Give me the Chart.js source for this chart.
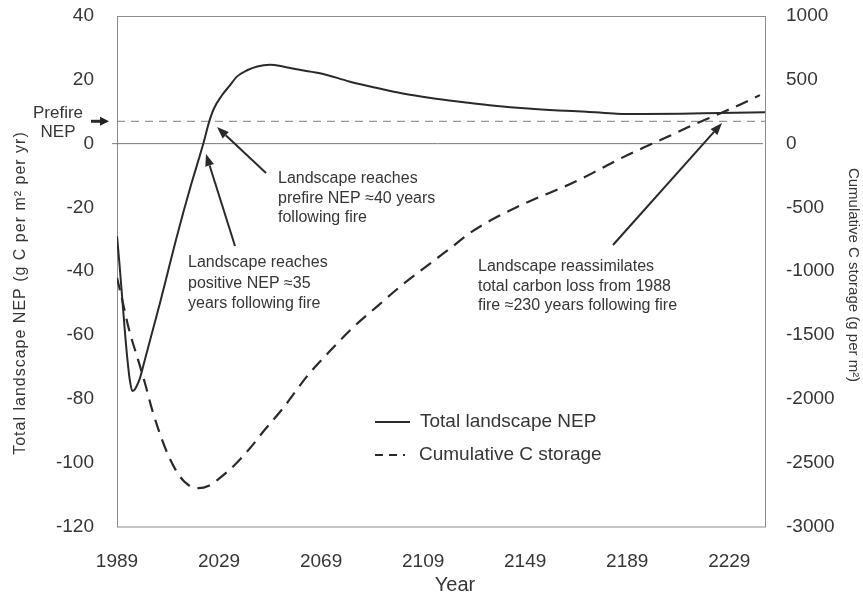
<!DOCTYPE html>
<html>
<head>
<meta charset="utf-8">
<script src="https://cdn.jsdelivr.net/npm/chart.js@4.4.1/dist/chart.umd.min.js"></script>
<style>
html, body { margin: 0; padding: 0; background: #fff; }
</style>
</head>
<body>
<canvas id="nepChart" width="863" height="598"></canvas>
<script>
// years after the 1988 fire
var nepYears = [1989, 1990, 1991, 1992, 1993, 1994, 1995, 1996, 1997, 1998, 2000, 2003, 2006, 2009, 2012, 2015, 2018, 2021, 2023, 2025, 2027, 2030, 2033, 2036, 2040, 2044, 2049, 2054, 2060, 2069, 2080, 2090, 2101, 2112, 2125, 2137, 2150, 2162, 2173, 2185, 2195, 2210, 2225, 2243];
var nepValues = [-29, -38, -48, -58, -67, -74, -77.5, -77, -75.5, -73.5, -67.5, -58.5, -49.5, -40, -30.5, -21.5, -13, -5, 0.5, 6.5, 11, 15, 18, 21, 23, 24.2, 24.7, 24.2, 23.2, 22, 19.5, 17.6, 15.7, 14.3, 13, 11.9, 11, 10.4, 10, 9.4, 9.3, 9.4, 9.6, 9.8];

var storageYears = [1989, 1991, 1993.5, 1997.5, 2000, 2003, 2008, 2013, 2017, 2021, 2025, 2029, 2035, 2041, 2047, 2054, 2064, 2072, 2081, 2091, 2100, 2110, 2119, 2127, 2136, 2146, 2155, 2164, 2175, 2185, 2195, 2205, 2214, 2224, 2232, 2241];
var storageValues = [-1050, -1220, -1440, -1710, -1880, -2100, -2390, -2590, -2675, -2700, -2680, -2625, -2520, -2390, -2240, -2075, -1810, -1635, -1450, -1275, -1120, -965, -830, -705, -595, -495, -415, -340, -235, -130, -35, 55, 140, 225, 295, 380];

var prefireNEP = 7;
var yearTicks = [1989, 2029, 2069, 2109, 2149, 2189, 2229];

var FONT = '"Liberation Sans", Arial, sans-serif';
var TEXT = '#363636';

function toPoints(xs, ys) {
    return xs.map(function(x, i) { return {x: x, y: ys[i]}; });
}

function arrow(ctx, x1, y1, x2, y2, len, half, width) {
    var a = Math.atan2(y2 - y1, x2 - x1);
    var bx = x2 - len * Math.cos(a), by = y2 - len * Math.sin(a);
    ctx.lineWidth = width;
    ctx.beginPath();
    ctx.moveTo(x1, y1);
    ctx.lineTo(bx, by);
    ctx.stroke();
    ctx.beginPath();
    ctx.moveTo(x2, y2);
    ctx.lineTo(bx + half * Math.sin(a), by - half * Math.cos(a));
    ctx.lineTo(bx - half * Math.sin(a), by + half * Math.cos(a));
    ctx.closePath();
    ctx.fill();
}

function lines(ctx, arr, x, y0, step) {
    arr.forEach(function(t, i) { ctx.fillText(t, x, y0 + i * step); });
}

// fixed axis sizes so the plot box sits where the figure has it
function fixWidth(w) {
    return function(s) {
        s.width = w;
        s.paddingTop = 0;
        s.paddingBottom = 0;
    };
}

var framePlugin = {
    id: 'frame',
    beforeDatasetsDraw: function(chart) {
        var ctx = chart.ctx, a = chart.chartArea;
        var y0 = chart.scales.y.getPixelForValue(0);
        ctx.save();
        ctx.strokeStyle = '#8c8c8c';
        ctx.lineWidth = 1;
        ctx.strokeRect(a.left + 0.5, a.top + 0.5, a.right - a.left, a.bottom - a.top);
        ctx.strokeStyle = '#7a7a7a';
        ctx.beginPath();
        ctx.moveTo(a.left - 5, y0);
        ctx.lineTo(a.right - 2, y0);
        ctx.stroke();
        ctx.restore();
    },
    afterDraw: function(chart) {
        var ctx = chart.ctx;
        var yPre = chart.scales.y.getPixelForValue(prefireNEP);
        ctx.save();
        ctx.fillStyle = TEXT;
        ctx.strokeStyle = '#2a2a2a';

        // axis titles
        ctx.textAlign = 'center';
        ctx.textBaseline = 'middle';
        ctx.font = '20px ' + FONT;
        ctx.fillText('Year', 455, 585);

        ctx.save();
        ctx.translate(21, 293);
        ctx.rotate(-Math.PI / 2);
        ctx.font = '16px ' + FONT;
        ctx.letterSpacing = '1px';
        ctx.fillText('Total landscape NEP (g C per m\u00B2 per yr)', 0, 0);
        ctx.restore();

        ctx.save();
        ctx.translate(853, 275);
        ctx.rotate(Math.PI / 2);
        ctx.font = '15px ' + FONT;
        ctx.fillText('Cumulative C storage (g per m\u00B2)', 0, 0);
        ctx.restore();

        // prefire marker on the left
        ctx.font = '17px ' + FONT;
        ctx.fillText('Prefire', 58, yPre - 8);
        ctx.fillText('NEP', 58, yPre + 11);
        ctx.fillStyle = '#222';
        arrow(ctx, 91, yPre, 109, yPre, 9, 4.5, 3);

        // annotations
        ctx.fillStyle = '#2a2a2a';
        arrow(ctx, 266, 173, 217, 127, 12, 4.5, 2);
        arrow(ctx, 235, 246, 206, 154, 12, 4.5, 2);
        arrow(ctx, 613, 245, 722, 123, 12, 4.5, 2);

        ctx.fillStyle = TEXT;
        ctx.textAlign = 'left';
        ctx.font = '16px ' + FONT;
        lines(ctx, ['Landscape reaches', 'prefire NEP \u224840 years', 'following fire'], 278, 179, 19.5);
        lines(ctx, ['Landscape reaches', 'positive NEP \u224835', 'years following fire'], 188, 263, 20.5);
        lines(ctx, ['Landscape reassimilates', 'total carbon loss from 1988', 'fire \u2248230 years following fire'], 478, 267, 19.5);

        // legend
        ctx.strokeStyle = '#2a2a2a';
        ctx.lineWidth = 2;
        ctx.beginPath();
        ctx.moveTo(375, 422);
        ctx.lineTo(410, 422);
        ctx.stroke();
        ctx.setLineDash([8, 6]);
        ctx.beginPath();
        ctx.moveTo(375, 455);
        ctx.lineTo(405, 455);
        ctx.stroke();
        ctx.setLineDash([]);
        ctx.font = '19px ' + FONT;
        ctx.fillText('Total landscape NEP', 420, 422);
        ctx.fillText('Cumulative C storage', 419, 455);
        ctx.restore();
    }
};

var ctx = document.getElementById('nepChart').getContext('2d');

var nepChart = new Chart(ctx, {
    type: 'line',
    data: {
        datasets: [{
            label: 'Total landscape NEP',
            data: toPoints(nepYears, nepValues),
            yAxisID: 'y',
            borderColor: '#2a2a2a',
            borderWidth: 2,
            pointRadius: 0,
            cubicInterpolationMode: 'monotone'
        }, {
            label: 'Cumulative C storage',
            data: toPoints(storageYears, storageValues),
            yAxisID: 'y2',
            borderColor: '#2a2a2a',
            borderWidth: 2.2,
            borderDash: [13, 8],
            pointRadius: 0,
            cubicInterpolationMode: 'monotone'
        }, {
            label: 'Prefire NEP',
            data: [{x: 1989, y: prefireNEP}, {x: 2243, y: prefireNEP}],
            yAxisID: 'y',
            borderColor: '#7c7c7c',
            borderWidth: 1,
            borderDash: [8, 6],
            pointRadius: 0
        }]
    },
    options: {
        responsive: false,
        animation: false,
        layout: { padding: { top: 16, left: 0, right: 0, bottom: 0 } },
        plugins: {
            legend: { display: false },
            tooltip: { enabled: false }
        },
        scales: {
            x: {
                type: 'linear',
                min: 1989,
                max: 2243,
                grid: { display: false },
                border: { display: false },
                afterBuildTicks: function(s) { s.ticks = yearTicks.map(function(v) { return {value: v}; }); },
                afterFit: function(s) { s.height = 71.5; },
                ticks: {
                    autoSkip: false,
                    maxRotation: 0,
                    padding: 16,
                    color: TEXT,
                    font: { family: FONT, size: 19 },
                    callback: function(v) { return String(v); }
                }
            },
            y: {
                position: 'left',
                min: -120,
                max: 40,
                grid: { display: false },
                border: { display: false },
                afterFit: fixWidth(117),
                ticks: {
                    stepSize: 20,
                    padding: 15,
                    color: TEXT,
                    font: { family: FONT, size: 19 }
                }
            },
            y2: {
                position: 'right',
                min: -3000,
                max: 1000,
                grid: { display: false },
                border: { display: false },
                afterFit: fixWidth(98),
                ticks: {
                    stepSize: 500,
                    padding: 13,
                    color: TEXT,
                    font: { family: FONT, size: 19 },
                    callback: function(v) { return String(v); }
                }
            }
        }
    },
    plugins: [framePlugin]
});
</script>
</body>
</html>
